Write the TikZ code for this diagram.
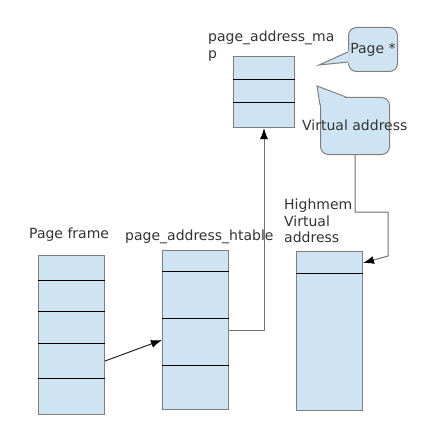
\documentclass[tikz,border=0pt]{standalone}
\usepackage{fontspec}
\setmainfont{DejaVu Sans}
\usetikzlibrary{arrows.meta, positioning, calc}
\definecolor{cellblue}{HTML}{CFE4F3}
\definecolor{edgegray}{HTML}{7F7F7F}
\definecolor{linkgray}{HTML}{707070}
\definecolor{txtgray}{HTML}{333333}

\begin{document}
\begin{tikzpicture}[x=1pt, y=-1pt,
  cell/.style={draw=edgegray, fill=cellblue, line width=1pt, minimum width=66pt, anchor=north west, inner sep=0pt},
  bubble/.style={draw=edgegray, fill=cellblue, line width=1pt, rounded corners=8pt, anchor=north west, inner sep=0pt, text=txtgray, font=\fontsize{14}{16.5}\selectfont},
  divider/.style={black, line width=1pt},
  lbl/.style={text=txtgray, font=\fontsize{14}{16.5}\selectfont, anchor=west, inner sep=0pt, align=left},
  link/.style={linkgray, line width=1pt},
  >={Latex[length=11pt, width=8pt, color=black]}]

% Background
\useasboundingbox[fill=white] (0,0) rectangle (425,425);

% Tables
\node[cell, minimum height=159pt] (frame) at (38,255) {};
\node[cell, minimum height=159pt] (htable) at (162,250) {};
\node[cell, minimum height=159pt] (highmem) at (296,251) {};
\node[cell, minimum width=61pt, minimum height=71pt] (map) at (233,56) {};

% Rows
\foreach \dy in {25,56,88,123}
  \draw[divider] ($(frame.north west)+(0,\dy)$) -- ($(frame.north east)+(0,\dy)$);
\foreach \dy in {21,68,115}
  \draw[divider] ($(htable.north west)+(0,\dy)$) -- ($(htable.north east)+(0,\dy)$);
\draw[divider] ($(highmem.north west)+(0,22)$) -- ($(highmem.north east)+(0,22)$);
\foreach \dy in {24,47}
  \draw[divider] ($(map.north west)+(0,\dy)$) -- ($(map.north east)+(0,\dy)$);

% Callouts
\node[bubble, minimum width=49pt, minimum height=44pt] (pagebub) at (348,27) {Page *};
\fill[cellblue] (349,51) -- (319,65) -- (349,63) -- cycle;
\draw[edgegray, line width=1pt] (348,52) -- (319,65) -- (348,62);

\node[bubble, minimum width=69pt, minimum height=57pt] (vabub) at (320,97) {};
\fill[cellblue] (346,98) -- (317,86) -- (321,106) -- cycle;
\draw[edgegray, line width=1pt] (346,97) -- (317,86) -- (320,105);

% Labels
\node[lbl] (maplbl) at (208,46) {page\_address\_ma\\p};
\node[lbl] (valbl) at (302,125) {Virtual address};
\node[lbl] (framelbl) at (29,235) {Page frame};
\node[lbl] (htablelbl) at (125,237) {page\_address\_htable};
\node[lbl] (highlbl) at (284,221) {Highmem\\Virtual\\address};

% Links
\coordinate (vaturn) at (388,212);
\coordinate (vaend) at (388,256);
\draw[link, ->] (htable.east) -| (map.south);
\draw[link, ->] (vabub.south) |- (vaturn) -- (vaend) -- ($(highmem.north east)+(0,12)$);
\draw[->, black!85, line width=1pt] ($(frame.east)+(0,26)$) -- ($(htable.west)+(0,10)$);

\end{tikzpicture}
\end{document}
